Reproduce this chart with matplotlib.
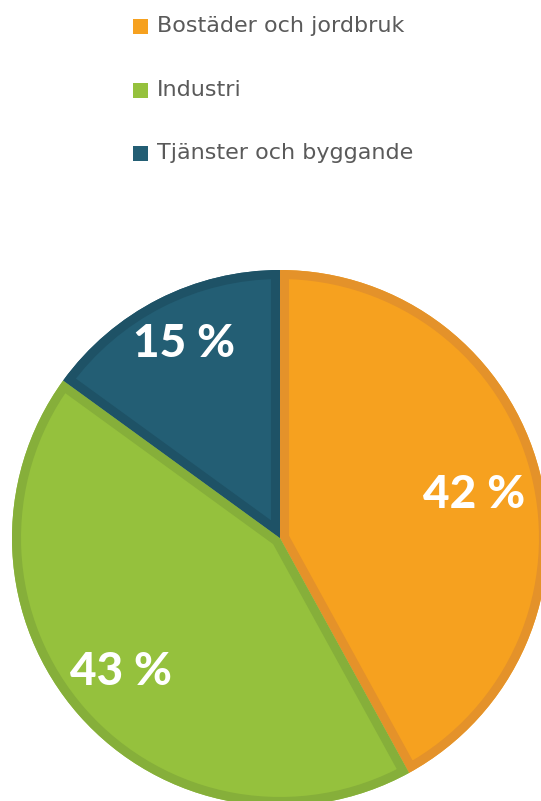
import matplotlib
matplotlib.use("Agg")
import matplotlib.pyplot as plt
from matplotlib.patches import Rectangle, PathPatch

categories = ["Bostäder och jordbruk", "Industri", "Tjänster och byggande"]
shares = [42, 43, 15]
labels = ["42 %", "43 %", "15 %"]
fill_colors = ["#F6A11F", "#95C13D", "#235E74"]
edge_colors = ["#E4922A", "#86AF3A", "#1E5266"]

W, H = 541, 801
fig = plt.figure(figsize=(W / 100, H / 100), dpi=100)
ax = fig.add_axes([0, 0, 1, 1])

cx, cy, r = 280, H - 538, 268
wedges, _ = ax.pie(shares, center=(cx, cy), radius=r, startangle=90,
                   counterclock=False, colors=fill_colors,
                   wedgeprops=dict(linewidth=0))
ax.set_xlim(0, W)
ax.set_ylim(0, H)
ax.set_aspect("equal")
ax.axis("off")
for w, ec in zip(wedges, edge_colors):
    border = PathPatch(w.get_path(), transform=w.get_transform(),
                       facecolor="none", edgecolor=ec, linewidth=13,
                       joinstyle="miter", zorder=w.get_zorder() + 0.1)
    ax.add_artist(border)
    border.set_clip_path(w)

label_pos = [(474, H - 495), (121, H - 672), (184, H - 344)]
for (x, y), t in zip(label_pos, labels):
    ax.text(x, y, t, color="white", fontsize=33, fontweight="black",
            family="Lato", ha="center", va="center", zorder=5)

leg_y = [26, 90, 153]
for yy, cat, col in zip(leg_y, categories, fill_colors):
    ax.add_patch(Rectangle((133, H - yy - 7.5), 15, 15, color=col, lw=0))
    ax.text(157, H - yy, cat, color="#5a5a5a", fontsize=16,
            family="DejaVu Sans", ha="left", va="center")

fig.savefig("out.png", dpi=100)
